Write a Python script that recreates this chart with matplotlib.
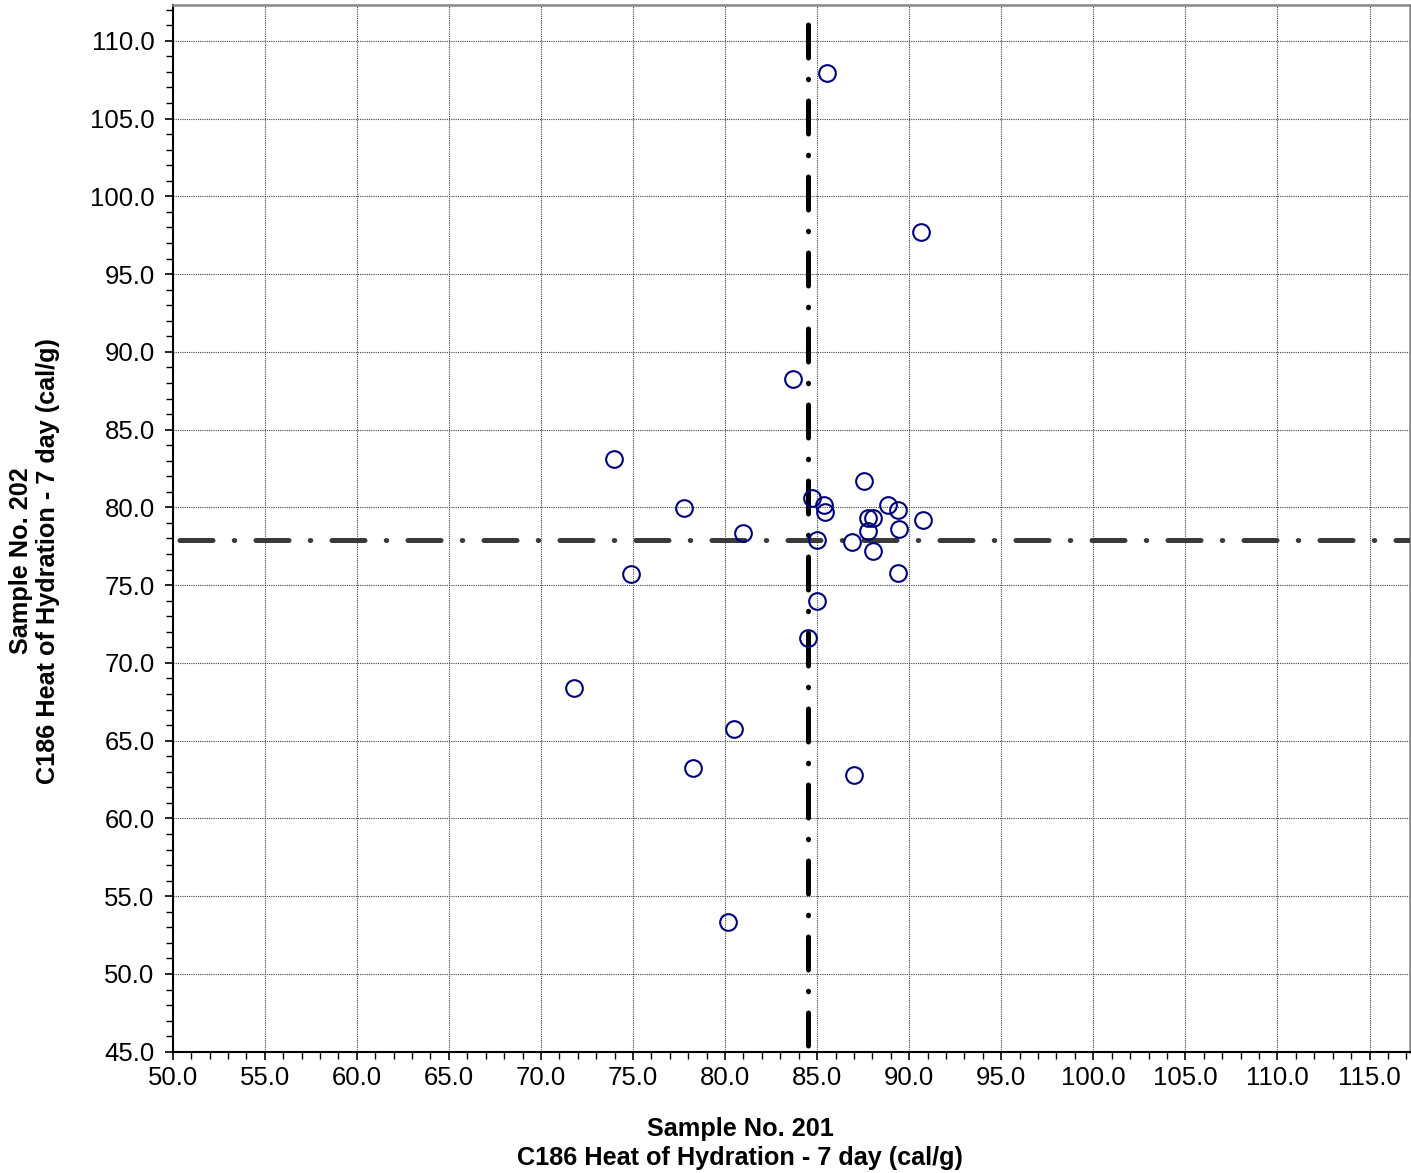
import matplotlib
matplotlib.use("Agg")
import matplotlib.pyplot as plt
import matplotlib.ticker as ticker

# ================= 数据 =================
x_vals = [85.54, 90.65, 83.69, 73.97, 87.55, 77.78, 84.73, 85.39, 85.44, 88.86,
          89.40, 87.77, 88.04, 87.78, 89.47, 90.77, 80.98, 84.98, 86.88, 88.06,
          89.38, 74.88, 84.98, 84.49, 71.80, 80.49, 78.27, 87.00, 80.16]
y_vals = [107.9, 97.68, 88.23, 83.09, 81.68, 79.99, 80.63, 80.18, 79.73, 80.18,
          79.86, 79.30, 79.30, 78.49, 78.61, 79.21, 78.33, 77.89, 77.78, 77.20,
          75.81, 75.69, 73.98, 71.61, 68.37, 65.73, 63.22, 62.77, 53.33]
x_ref = 84.51
y_ref = 77.89

x_label = "Sample No. 201\nC186 Heat of Hydration - 7 day (cal/g)"
y_label = "Sample No. 202\nC186 Heat of Hydration - 7 day (cal/g)"

plt.rcParams['font.family'] = ['Liberation Sans', 'DejaVu Sans']

fig = plt.figure(figsize=(14.11, 11.73), dpi=100)
ax = fig.add_axes([0.1224, 0.1034, 0.8769, 0.8923])

ax.set_xlim(50, 117.2)
ax.set_ylim(45, 112.3)

ax.xaxis.set_major_locator(ticker.MultipleLocator(5))
ax.xaxis.set_minor_locator(ticker.MultipleLocator(1))
ax.yaxis.set_major_locator(ticker.MultipleLocator(5))
ax.yaxis.set_minor_locator(ticker.MultipleLocator(1))
ax.xaxis.set_major_formatter(ticker.FormatStrFormatter('%.1f'))
ax.yaxis.set_major_formatter(ticker.FormatStrFormatter('%.1f'))

ax.grid(True, which='major', linestyle=(0, (1, 1)), color='#444444', linewidth=0.8)
ax.set_axisbelow(True)

# 参考线 (点划线)
dash = (13.9, (6.6, 4.25, 0.1, 4.25))
ax.axvline(x_ref, color='black', linewidth=3.6, linestyle=dash,
           dash_capstyle='round', zorder=3)
ax.axhline(y_ref, color='#3a3a3a', linewidth=3.6, linestyle=dash,
           dash_capstyle='round', zorder=3)

ax.plot(x_vals, y_vals, linestyle='none', marker='o', markersize=12,
        markerfacecolor='none', markeredgecolor='#000080', markeredgewidth=1.5, zorder=4)

for s in ('left', 'bottom'):
    ax.spines[s].set_color('black')
    ax.spines[s].set_linewidth(1.5)
for s in ('top', 'right'):
    ax.spines[s].set_color('#888888')
    ax.spines[s].set_linewidth(1.8)

ax.tick_params(axis='both', which='major', direction='out', length=6, width=1.2, labelsize=18.5)
ax.tick_params(axis='y', which='major', pad=7)
ax.tick_params(axis='x', which='major', pad=4)
ax.tick_params(axis='both', which='minor', direction='out', length=5, width=1.0)

ax.set_xlabel(x_label, fontsize=18.2, fontweight='bold', linespacing=1.28)
ax.set_ylabel(y_label, fontsize=18.2, fontweight='bold', linespacing=1.15)
ax.xaxis.set_label_coords(0.4585, -0.062)
ax.yaxis.set_label_coords(-0.091, 0.469)

fig.savefig("out.png", dpi=100)
